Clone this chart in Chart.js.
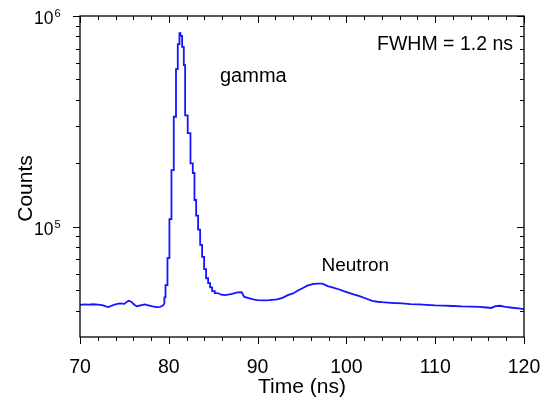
<!DOCTYPE html>
<html>
<head>
<meta charset="utf-8">
<script src="https://cdn.jsdelivr.net/npm/chart.js@4"></script>
<style>
  html, body { margin: 0; padding: 0; background: #fff; }
  #wrap { width: 545px; height: 403px; }
</style>
</head>
<body>
<div id="wrap"><canvas id="tof-chart" width="545" height="403"></canvas></div>
<script>
// time of flight spectrum
const times = [
  70.0, 70.5, 71.0, 71.5, 72.0, 72.5, 72.9, 73.2, 73.6, 74.0,
  74.5, 75.0, 75.25, 75.5, 75.8, 76.1, 76.4, 76.8, 77.3, 77.8,
  78.2, 78.6, 79.0, 79.3, 79.5, 79.63, 79.85, 80.07, 80.30, 80.56,
  80.81, 81.01, 81.20, 81.31, 81.50, 81.69, 81.84, 82.13, 82.44, 82.70,
  82.89, 83.08, 83.30, 83.53, 83.75, 83.98, 84.20, 84.43, 84.65, 84.88,
  85.17, 85.5, 85.9, 86.3, 87.0, 87.75, 88.2, 88.5, 89.0, 89.5,
  90.0, 90.75, 91.3, 92.2, 92.8, 93.4, 94.0, 94.5, 95.0, 95.6,
  96.2, 96.7, 97.3, 97.9, 98.5, 99.2, 99.7, 100.3, 100.8, 101.4,
  102.2, 102.9, 103.5, 104.0, 105.0, 106.3, 107.2, 108.2, 109.0, 110.0,
  111.0, 112.0, 113.0, 114.0, 115.0, 115.8, 116.3, 116.8, 117.3, 117.9,
  118.7, 119.4, 120.0
];
const counts = [
  42600, 42800, 42700, 42900, 42700, 42500, 41900, 41600, 42300, 42900,
  43300, 43100, 44000, 44600, 44000, 42700, 42000, 42400, 42800, 42300,
  41900, 41600, 41700, 42200, 43000, 46200, 52900, 71000, 108800, 185800,
  332700, 560000, 735000, 830000, 805000, 714000, 585000, 338000, 278000, 200000,
  180000, 134000, 113000, 97000, 82000, 72000, 63000, 57000, 54000, 51600,
  49500, 48500, 47600, 47400, 47900, 48800, 48900, 46500, 45900, 45300,
  44900, 44800, 44900, 45200, 46000, 47400, 48300, 49700, 51000, 52600,
  53500, 53800, 53700, 52300, 51400, 50400, 49500, 48600, 47800, 47000,
  45700, 44500, 44100, 43900, 43600, 43300, 43000, 42800, 42600, 42400,
  42300, 42100, 41900, 41800, 41700, 41400, 41200, 42000, 42200, 41700,
  41300, 41000, 40700
];
// histogram bins are visible only around the gamma peak
const stepFrom = 79.5;
const stepTo = 85.5;

const xMajorTicks = [70, 80, 90, 100, 110, 120];
const xMinorTicks = [72, 74, 76, 78, 82, 84, 86, 88, 92, 94, 96, 98, 102, 104, 106, 108, 112, 114, 116, 118];
const yMajorTicks = [100000, 1000000];
const yMajorExp = ["5", "6"];
const yMinorTicks = [40000, 50000, 60000, 70000, 80000, 90000,
  200000, 300000, 400000, 500000, 600000, 700000, 800000, 900000];

const FONT = "'Liberation Sans', Arial, sans-serif";
const BLUE = "rgb(20, 20, 255)";

const allPoints = times.map((t, i) => ({ x: t, y: counts[i] }));
const peakPoints = allPoints.filter((p) => p.x >= stepFrom && p.x <= stepTo);
const smoothPoints = allPoints.map((p) =>
  p.x > stepFrom && p.x < stepTo ? { x: p.x, y: null } : p
);

// axes frame, ticks (out on bottom/left, in on top/right), labels, notes
const framePlugin = {
  id: "frame",
  afterDraw(chart) {
    const ctx = chart.ctx;
    const a = chart.chartArea;
    const x = chart.scales.x;
    const y = chart.scales.y;
    ctx.save();
    ctx.strokeStyle = "#000";
    ctx.lineWidth = 1.3;
    ctx.strokeRect(a.left, a.top, a.right - a.left, a.bottom - a.top);

    ctx.lineWidth = 1;
    const tick = (x1, y1, x2, y2) => {
      ctx.beginPath();
      ctx.moveTo(x1, y1);
      ctx.lineTo(x2, y2);
      ctx.stroke();
    };
    xMajorTicks.forEach((v) => {
      const px = Math.round(x.getPixelForValue(v)) + 0.5;
      tick(px, a.bottom, px, a.bottom + 7);
      tick(px, a.top, px, a.top + 7);
    });
    xMinorTicks.forEach((v) => {
      const px = Math.round(x.getPixelForValue(v)) + 0.5;
      tick(px, a.bottom, px, a.bottom + 4);
      tick(px, a.top, px, a.top + 4);
    });
    yMajorTicks.forEach((v) => {
      const py = Math.round(y.getPixelForValue(v)) + 0.5;
      tick(a.left - 7, py, a.left, py);
      tick(a.right - 7, py, a.right, py);
    });
    yMinorTicks.forEach((v) => {
      const py = Math.round(y.getPixelForValue(v)) + 0.5;
      tick(a.left - 4, py, a.left, py);
      tick(a.right - 4, py, a.right, py);
    });

    ctx.fillStyle = "#000";
    ctx.textBaseline = "alphabetic";

    // x tick labels
    ctx.font = "19.5px " + FONT;
    ctx.textAlign = "center";
    xMajorTicks.forEach((v) => {
      ctx.fillText(String(v), x.getPixelForValue(v), 373);
    });

    // y tick labels 10^n
    yMajorTicks.forEach((v, i) => {
      const py = y.getPixelForValue(v);
      ctx.font = "17.5px " + FONT;
      ctx.textAlign = "right";
      ctx.fillText("10", 53.5, py + 7.8);
      ctx.font = "11px " + FONT;
      ctx.textAlign = "left";
      ctx.fillText(yMajorExp[i], 54.5, py + 1.2);
    });

    // axis titles
    ctx.font = "21px " + FONT;
    ctx.textAlign = "center";
    ctx.fillText("Time (ns)", (a.left + a.right) / 2, 393);
    ctx.save();
    ctx.translate(31.5, 188.5);
    ctx.rotate(-Math.PI / 2);
    ctx.fillText("Counts", 0, 0);
    ctx.restore();

    // notes
    ctx.textAlign = "left";
    ctx.font = "20px " + FONT;
    ctx.fillText("gamma", 220, 82);
    ctx.font = "19.5px " + FONT;
    ctx.textAlign = "right";
    ctx.fillText("FWHM = 1.2 ns", 513, 50);
    ctx.textAlign = "left";
    ctx.font = "19px " + FONT;
    ctx.fillText("Neutron", 321.5, 271);
    ctx.restore();
  },
};

const tofChart = new Chart(document.getElementById("tof-chart").getContext("2d"), {
  type: "line",
  data: {
    datasets: [
      {
        label: "Counts",
        data: smoothPoints,
        borderColor: BLUE,
        borderWidth: 1.8,
        pointRadius: 0,
        spanGaps: false,
        fill: false,
      },
      {
        label: "Counts (peak bins)",
        data: peakPoints,
        borderColor: BLUE,
        borderWidth: 1.8,
        pointRadius: 0,
        stepped: "after",
        fill: false,
      },
    ],
  },
  options: {
    responsive: false,
    animation: false,
    layout: {
      padding: { left: 80, right: 21, top: 16, bottom: 66 },
    },
    plugins: {
      legend: { display: false },
      tooltip: { enabled: false },
    },
    scales: {
      x: {
        type: "linear",
        min: 70,
        max: 120,
        display: false,
      },
      y: {
        type: "logarithmic",
        min: 30000,
        max: 1000000,
        display: false,
      },
    },
  },
  plugins: [framePlugin],
});
</script>
</body>
</html>
